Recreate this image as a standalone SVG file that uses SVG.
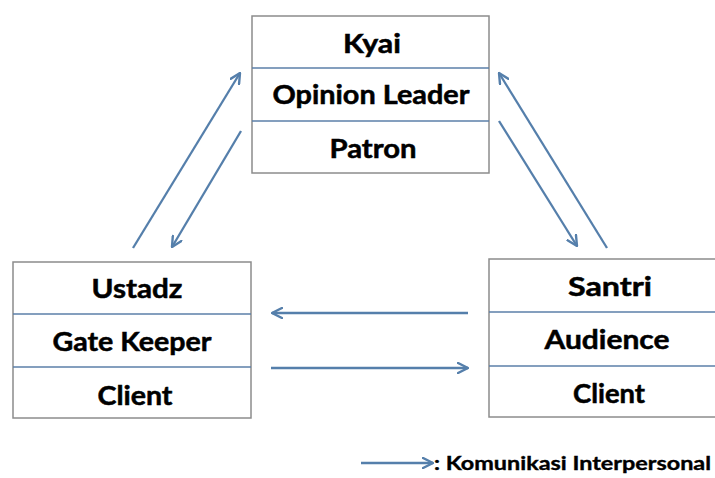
<svg xmlns="http://www.w3.org/2000/svg" width="715" height="478" viewBox="0 0 715 478">
  <style>
    .box { fill: #ffffff; stroke: #8c8c8c; stroke-width: 1.5; }
    .div { stroke: #5b7fa8; stroke-width: 1.6; }
    .lbl { font-family: Lato, "Open Sans", "Liberation Sans", sans-serif; font-weight: 700; font-size: 26px; fill: #000000; stroke: #000000; stroke-width: 0.5; text-anchor: middle; }
    .legend { font-family: Lato, "Open Sans", "Liberation Sans", sans-serif; font-weight: 700; font-size: 18px; fill: #000000; stroke: #000000; stroke-width: 0.35; }
    .conn { stroke: #557fab; stroke-width: 2.3; fill: none; marker-end: url(#arrow); }
  </style>
  <defs>
    <marker id="arrow" viewBox="0 0 12 12" refX="11" refY="6" markerWidth="12" markerHeight="12" markerUnits="userSpaceOnUse" orient="auto">
      <path d="M1,1 L11,6 L1,11" fill="none" stroke="#557fab" stroke-width="2.4" stroke-linecap="round" stroke-linejoin="round"/>
    </marker>
  </defs>
  <rect width="715" height="478" fill="#ffffff"/>

  <g id="kyai">
    <rect class="box" x="252" y="16" width="237" height="157"/>
    <line class="div" x1="252" y1="68" x2="489" y2="68"/>
    <line class="div" x1="252" y1="121" x2="489" y2="121"/>
    <text class="lbl" x="372" y="53" textLength="58" lengthAdjust="spacingAndGlyphs">Kyai</text>
    <text class="lbl" x="371" y="104" textLength="197" lengthAdjust="spacingAndGlyphs">Opinion Leader</text>
    <text class="lbl" x="373" y="158" textLength="87" lengthAdjust="spacingAndGlyphs">Patron</text>
  </g>

  <g id="ustadz">
    <rect class="box" x="13" y="262" width="238" height="156"/>
    <line class="div" x1="13" y1="314" x2="251" y2="314"/>
    <line class="div" x1="13" y1="367" x2="251" y2="367"/>
    <text class="lbl" x="137" y="298" textLength="91" lengthAdjust="spacingAndGlyphs">Ustadz</text>
    <text class="lbl" x="132" y="351" textLength="159" lengthAdjust="spacingAndGlyphs">Gate Keeper</text>
    <text class="lbl" x="135" y="405" textLength="75" lengthAdjust="spacingAndGlyphs">Client</text>
  </g>

  <g id="santri">
    <rect class="box" x="489" y="259" width="240" height="158"/>
    <line class="div" x1="489" y1="312" x2="729" y2="312"/>
    <line class="div" x1="489" y1="366" x2="729" y2="366"/>
    <text class="lbl" x="610" y="296" textLength="84" lengthAdjust="spacingAndGlyphs">Santri</text>
    <text class="lbl" x="607" y="349" textLength="125" lengthAdjust="spacingAndGlyphs">Audience</text>
    <text class="lbl" x="609" y="403" textLength="72" lengthAdjust="spacingAndGlyphs">Client</text>
  </g>

  <g id="connectors">
    <line class="conn" x1="133" y1="248" x2="240" y2="73"/>
    <line class="conn" x1="241" y1="131" x2="172" y2="247"/>
    <line class="conn" x1="607" y1="248" x2="499" y2="73"/>
    <line class="conn" x1="499" y1="121" x2="577" y2="246"/>
    <line class="conn" x1="468" y1="313" x2="272" y2="313"/>
    <line class="conn" x1="271" y1="368" x2="468" y2="368"/>
  </g>

  <g id="legend">
    <line class="conn" x1="361" y1="463" x2="433" y2="463"/>
    <text class="legend" x="434" y="470" textLength="277" lengthAdjust="spacingAndGlyphs">: Komunikasi Interpersonal</text>
  </g>
</svg>
